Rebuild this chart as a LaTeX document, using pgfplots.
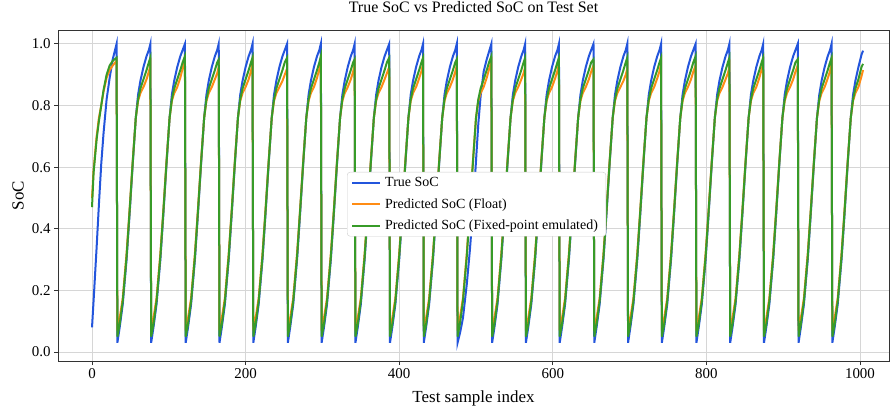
\documentclass[border=0pt]{standalone}
\usepackage{pgfplots}
\pgfplotsset{compat=1.18}
\usepackage{pgfplotstable}
\usepackage{fontspec}
\setmainfont{Liberation Serif}

\definecolor{trueblue}{RGB}{35,85,220}
\definecolor{floatorange}{RGB}{255,140,20}
\definecolor{fixgreen}{RGB}{55,155,40}

% x = test sample index, B = true SoC, F = float prediction, G = fixed-point prediction
\pgfplotstableread{
x B F G
0 0.080 0.500 0.470
2 0.165 0.590 0.580
6 0.340 0.700 0.690
9 0.480 0.760 0.750
12 0.610 0.800 0.800
15 0.710 0.845 0.850
19 0.820 0.890 0.900
23 0.890 0.915 0.930
27 0.950 0.930 0.945
32 1.000 0.945 0.955
33 0.030 0.070 0.050
36 0.080 0.110 0.090
40 0.155 0.175 0.165
45 0.300 0.320 0.310
49 0.450 0.465 0.460
53 0.610 0.620 0.615
57 0.760 0.760 0.760
60 0.835 0.815 0.820
63 0.880 0.840 0.855
67 0.925 0.860 0.885
71 0.960 0.885 0.915
74 0.980 0.910 0.940
76 1.000 0.930 0.955
77 0.030 0.070 0.050
80 0.080 0.110 0.090
84 0.155 0.175 0.165
89 0.300 0.320 0.310
93 0.450 0.465 0.460
97 0.610 0.620 0.615
101 0.760 0.760 0.760
104 0.835 0.815 0.820
107 0.880 0.840 0.855
111 0.925 0.860 0.885
115 0.960 0.890 0.915
118 0.980 0.920 0.940
121 1.000 0.945 0.960
122 0.030 0.070 0.050
125 0.080 0.110 0.090
129 0.155 0.175 0.165
134 0.300 0.320 0.310
138 0.450 0.465 0.460
142 0.610 0.620 0.615
146 0.760 0.760 0.760
149 0.835 0.815 0.820
152 0.880 0.840 0.855
156 0.925 0.860 0.885
160 0.960 0.885 0.915
163 0.980 0.905 0.940
165 1.000 0.925 0.950
166 0.030 0.070 0.050
169 0.080 0.110 0.090
173 0.155 0.175 0.165
178 0.300 0.320 0.310
182 0.450 0.465 0.460
186 0.610 0.620 0.615
190 0.760 0.760 0.760
193 0.835 0.815 0.820
196 0.880 0.840 0.855
200 0.925 0.860 0.885
204 0.960 0.885 0.915
207 0.980 0.912 0.940
209 1.000 0.935 0.955
210 0.030 0.070 0.050
213 0.080 0.110 0.090
217 0.155 0.175 0.165
222 0.300 0.320 0.310
226 0.450 0.465 0.460
230 0.610 0.620 0.615
234 0.760 0.760 0.760
237 0.835 0.815 0.820
240 0.880 0.840 0.855
244 0.925 0.860 0.885
248 0.960 0.880 0.915
251 0.980 0.900 0.940
254 1.000 0.920 0.955
255 0.030 0.070 0.050
258 0.080 0.110 0.090
262 0.155 0.175 0.165
267 0.300 0.320 0.310
271 0.450 0.465 0.460
275 0.610 0.620 0.615
279 0.760 0.760 0.760
282 0.835 0.815 0.820
285 0.880 0.840 0.855
289 0.925 0.860 0.885
293 0.960 0.890 0.915
296 0.980 0.918 0.940
298 1.000 0.940 0.960
299 0.030 0.070 0.050
302 0.080 0.110 0.090
306 0.155 0.175 0.165
311 0.300 0.320 0.310
315 0.450 0.465 0.460
319 0.610 0.620 0.615
323 0.760 0.760 0.760
326 0.835 0.815 0.820
329 0.880 0.840 0.855
333 0.925 0.860 0.885
337 0.960 0.885 0.915
340 0.980 0.910 0.940
342 1.000 0.930 0.950
343 0.030 0.070 0.050
346 0.080 0.110 0.090
350 0.155 0.175 0.165
355 0.300 0.320 0.310
359 0.450 0.465 0.460
363 0.610 0.620 0.615
367 0.760 0.760 0.760
370 0.835 0.815 0.820
373 0.880 0.840 0.855
377 0.925 0.860 0.885
381 0.960 0.885 0.915
384 0.980 0.905 0.940
387 1.000 0.925 0.955
388 0.030 0.070 0.050
391 0.080 0.110 0.090
395 0.155 0.175 0.165
400 0.300 0.320 0.310
404 0.450 0.465 0.460
408 0.610 0.620 0.615
412 0.760 0.760 0.760
415 0.835 0.815 0.820
418 0.880 0.840 0.855
422 0.925 0.860 0.885
426 0.960 0.888 0.915
429 0.980 0.912 0.940
431 1.000 0.935 0.955
432 0.030 0.070 0.050
435 0.080 0.110 0.090
439 0.155 0.175 0.165
444 0.300 0.320 0.310
448 0.450 0.465 0.460
452 0.610 0.620 0.615
456 0.760 0.760 0.760
459 0.835 0.815 0.820
462 0.880 0.840 0.855
466 0.925 0.860 0.885
470 0.960 0.885 0.915
473 0.980 0.910 0.940
475 1.000 0.930 0.950
476 0.030 0.070 0.050
479 0.060 0.110 0.090
483 0.110 0.175 0.165
488 0.220 0.320 0.310
492 0.330 0.465 0.460
496 0.460 0.620 0.615
500 0.620 0.760 0.760
503 0.740 0.815 0.820
506 0.830 0.840 0.855
510 0.910 0.860 0.885
514 0.950 0.890 0.915
517 0.975 0.918 0.940
520 1.000 0.940 0.960
521 0.030 0.070 0.050
524 0.080 0.110 0.090
528 0.155 0.175 0.165
533 0.300 0.320 0.310
537 0.450 0.465 0.460
541 0.610 0.620 0.615
545 0.760 0.760 0.760
548 0.835 0.815 0.820
551 0.880 0.840 0.855
555 0.925 0.860 0.885
559 0.960 0.885 0.915
562 0.980 0.905 0.940
564 1.000 0.925 0.955
565 0.030 0.070 0.050
568 0.080 0.110 0.090
572 0.155 0.175 0.165
577 0.300 0.320 0.310
581 0.450 0.465 0.460
585 0.610 0.620 0.615
589 0.760 0.760 0.760
592 0.835 0.815 0.820
595 0.880 0.840 0.855
599 0.925 0.860 0.885
603 0.960 0.888 0.915
606 0.980 0.912 0.940
608 1.000 0.935 0.955
609 0.030 0.070 0.050
612 0.080 0.110 0.090
616 0.155 0.175 0.165
621 0.300 0.320 0.310
625 0.450 0.465 0.460
629 0.610 0.620 0.615
633 0.760 0.760 0.760
636 0.835 0.815 0.820
639 0.880 0.840 0.855
643 0.925 0.860 0.885
647 0.960 0.885 0.915
650 0.980 0.910 0.940
653 1.000 0.930 0.950
654 0.030 0.070 0.050
657 0.080 0.110 0.090
661 0.155 0.175 0.165
666 0.300 0.320 0.310
670 0.450 0.465 0.460
674 0.610 0.620 0.615
678 0.760 0.760 0.760
681 0.835 0.815 0.820
684 0.880 0.840 0.855
688 0.925 0.860 0.885
692 0.960 0.880 0.915
695 0.980 0.900 0.940
697 1.000 0.920 0.955
698 0.030 0.070 0.050
701 0.080 0.110 0.090
705 0.155 0.175 0.165
710 0.300 0.320 0.310
714 0.450 0.465 0.460
718 0.610 0.620 0.615
722 0.760 0.760 0.760
725 0.835 0.815 0.820
728 0.880 0.840 0.855
732 0.925 0.860 0.885
736 0.960 0.888 0.915
739 0.980 0.912 0.940
741 1.000 0.935 0.955
742 0.030 0.070 0.050
745 0.080 0.110 0.090
749 0.155 0.175 0.165
754 0.300 0.320 0.310
758 0.450 0.465 0.460
762 0.610 0.620 0.615
766 0.760 0.760 0.760
769 0.835 0.815 0.820
772 0.880 0.840 0.855
776 0.925 0.860 0.885
780 0.960 0.885 0.915
783 0.980 0.910 0.940
786 1.000 0.930 0.960
787 0.030 0.070 0.050
790 0.080 0.110 0.090
794 0.155 0.175 0.165
799 0.300 0.320 0.310
803 0.450 0.465 0.460
807 0.610 0.620 0.615
811 0.760 0.760 0.760
814 0.835 0.815 0.820
817 0.880 0.840 0.855
821 0.925 0.860 0.885
825 0.960 0.885 0.915
828 0.980 0.905 0.940
830 1.000 0.925 0.955
831 0.030 0.070 0.050
834 0.080 0.110 0.090
838 0.155 0.175 0.165
843 0.300 0.320 0.310
847 0.450 0.465 0.460
851 0.610 0.620 0.615
855 0.760 0.760 0.760
858 0.835 0.815 0.820
861 0.880 0.840 0.855
865 0.925 0.860 0.885
869 0.960 0.890 0.915
872 0.980 0.918 0.940
874 1.000 0.940 0.955
875 0.030 0.070 0.050
878 0.080 0.110 0.090
882 0.155 0.175 0.165
887 0.300 0.320 0.310
891 0.450 0.465 0.460
895 0.610 0.620 0.615
899 0.760 0.760 0.760
902 0.835 0.815 0.820
905 0.880 0.840 0.855
909 0.925 0.860 0.885
913 0.960 0.885 0.915
916 0.980 0.910 0.940
919 1.000 0.930 0.950
920 0.030 0.070 0.050
923 0.080 0.110 0.090
927 0.155 0.175 0.165
932 0.300 0.320 0.310
936 0.450 0.465 0.460
940 0.610 0.620 0.615
944 0.760 0.760 0.760
947 0.835 0.815 0.820
950 0.880 0.840 0.855
954 0.925 0.860 0.885
958 0.960 0.888 0.915
961 0.980 0.912 0.940
963 1.000 0.935 0.955
964 0.030 0.070 0.050
967 0.080 0.110 0.090
971 0.155 0.175 0.165
976 0.300 0.320 0.310
980 0.450 0.465 0.460
984 0.610 0.620 0.615
988 0.760 0.760 0.760
991 0.835 0.815 0.820
994 0.880 0.840 0.855
998 0.925 0.860 0.885
1002 0.965 0.895 0.925
1004 0.978 0.915 0.935
}\socdata

\begin{document}
\begin{tikzpicture}
\begin{axis}[
  scale only axis,
  width=831bp, height=331bp,
  xmin=-44.3, xmax=1037.8,
  ymin=-0.029, ymax=1.045,
  xtick={0,200,400,600,800,1000},
  ytick={0,0.2,0.4,0.6,0.8,1.0},
  tick pos=left,
  tick align=outside,
  major tick length=4bp,
  every tick/.style={black!80, line width=0.8bp},
  axis line style={black!80, line width=0.8bp},
  grid=major,
  major grid style={draw=black!16, line width=0.8bp},
  /pgf/number format/assume math mode=true,
  /pgf/number format/1000 sep={},
  yticklabel style={/pgf/number format/.cd, fixed, fixed zerofill, precision=1},
  ticklabel style={font=\fontsize{15}{18}\selectfont},
  title={True SoC vs Predicted SoC on Test Set},
  title style={at={(axis description cs:0.5,1.0514)}, anchor=center, font=\fontsize{16}{19}\selectfont},
  xlabel={Test sample index},
  xlabel style={at={(axis description cs:0.5,-0.1118)}, anchor=center, font=\fontsize{17}{20}\selectfont},
  ylabel={SoC},
  ylabel style={at={(axis description cs:-0.0481,0.5)}, anchor=center, font=\fontsize{17}{20}\selectfont},
  legend cell align=left,
  legend style={at={(axis description cs:0.3478,0.571)}, anchor=north west,
    draw=black!20, rounded corners=3pt, fill=white, text opacity=1,
    font=\fontsize{14}{17}\selectfont, inner xsep=4bp, inner ysep=3bp, row sep=6.5bp,
    nodes={inner xsep=4bp}},
  legend image code/.code={\draw[#1, line width=2bp] (0bp,0bp) -- (28bp,0bp);},
]
\addplot[trueblue, line width=2bp] table[x=x, y=B] {\socdata};
\addlegendentry{True SoC}
\addplot[floatorange, line width=2bp] table[x=x, y=F] {\socdata};
\addlegendentry{Predicted SoC (Float)}
\addplot[fixgreen, line width=2bp] table[x=x, y=G] {\socdata};
\addlegendentry{Predicted SoC (Fixed-point emulated)}
\end{axis}
\pgfresetboundingbox
\path (-58bp,-48bp) rectangle (832bp,361bp);
\end{tikzpicture}
\end{document}
